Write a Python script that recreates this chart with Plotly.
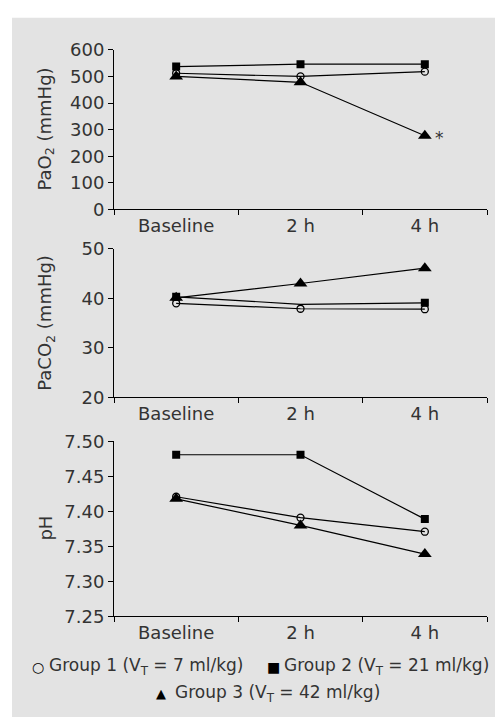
import plotly.graph_objects as go

W, H = 495, 727
categories = ["Baseline", "2 h", "4 h"]

pao2_g1 = [512, 500, 518]
pao2_g2 = [537, 546, 546]
pao2_g3 = [500, 478, 277]

paco2_g1 = [39.0, 37.9, 37.8]
paco2_g2 = [40.3, 38.8, 39.1]
paco2_g3 = [40.1, 43.0, 46.1]

ph_g1 = [7.421, 7.391, 7.371]
ph_g2 = [7.481, 7.481, 7.389]
ph_g3 = [7.418, 7.380, 7.339]

group_labels = ["Group 1 (V<sub>T</sub> = 7 ml/kg)",
                "Group 2 (V<sub>T</sub> = 21 ml/kg)",
                "Group 3 (V<sub>T</sub> = 42 ml/kg)"]

FONT = "DejaVu Sans"
TXT = "#333333"

def px_x(p):
    return p / W

def px_y(p):
    return 1 - p / H

fig = go.Figure()

styles = [
    dict(symbol="circle-open", size=7, color="black", line=dict(width=1.3, color="black")),
    dict(symbol="square", size=8, color="black"),
    dict(symbol="triangle-up", size=12, color="black"),
]

panels = [
    ("x", "y", [pao2_g1, pao2_g2, pao2_g3]),
    ("x2", "y2", [paco2_g1, paco2_g2, paco2_g3]),
    ("x3", "y3", [ph_g1, ph_g2, ph_g3]),
]

for xa, ya, series in panels:
    for i, vals in enumerate(series):
        m = dict(styles[i])
        if xa == "x2" and i == 1:
            m["opacity"] = [1, 0, 1]
        fig.add_trace(go.Scatter(
            x=categories, y=vals, xaxis=xa, yaxis=ya,
            mode="lines+markers",
            line=dict(color="black", width=1.2),
            marker=m, showlegend=False, name=group_labels[i],
        ))

xdom = [px_x(114), px_x(487)]
xcommon = dict(domain=xdom, type="category", range=[-0.5, 2.5],
               showline=True, linecolor="black", linewidth=1,
               ticks="outside", tickson="boundaries", ticklen=5,
               tickcolor="black", showgrid=False, zeroline=False,
               tickfont=dict(family=FONT, size=18, color=TXT))
ycommon = dict(showline=True, linecolor="black", linewidth=1,
               ticks="outside", ticklen=5, tickcolor="black",
               showgrid=False, zeroline=False,
               tickfont=dict(family=FONT, size=18, color=TXT))

fig.update_layout(
    width=W, height=H,
    margin=dict(l=0, r=0, t=0, b=0),
    paper_bgcolor="white",
    plot_bgcolor="rgba(0,0,0,0)",
    xaxis=dict(xcommon, anchor="y"),
    xaxis2=dict(xcommon, anchor="y2"),
    xaxis3=dict(xcommon, anchor="y3"),
    yaxis=dict(ycommon, anchor="x", domain=[px_y(204.3), px_y(40)],
               range=[0, 600], tickvals=[0, 100, 200, 300, 400, 500, 600]),
    yaxis2=dict(ycommon, anchor="x2", domain=[px_y(397.7), px_y(245)],
                range=[20, 50], tickvals=[20, 30, 40, 50]),
    yaxis3=dict(ycommon, anchor="x3", domain=[px_y(623.3), px_y(443.3)],
                range=[7.25, 7.50], tickvals=[7.25, 7.30, 7.35, 7.40, 7.45, 7.50],
                tickformat=".2f"),
)

fig.add_shape(type="rect", xref="paper", yref="paper",
              x0=px_x(12), x1=1, y0=0, y1=px_y(7),
              fillcolor="#e3e3e3", line=dict(width=0), layer="below")

ann = []
for text, ymid in [("PaO<sub>2</sub> (mmHg)", 122), ("PaCO<sub>2</sub> (mmHg)", 321), ("pH", 533)]:
    ann.append(dict(text=text, x=px_x(46), y=px_y(ymid), xref="paper", yref="paper",
                    xanchor="center", yanchor="middle", textangle=-90, showarrow=False,
                    font=dict(family=FONT, size=18, color=TXT)))

ann.append(dict(text="*", x="4 h", y=pao2_g3[2], xref="x", yref="y",
                xshift=15, yshift=-2, showarrow=False,
                font=dict(family=FONT, size=17, color=TXT)))

# legend
leg_font = dict(family=FONT, size=17, color=TXT)
ann.append(dict(text="○", x=px_x(38), y=px_y(675), xref="paper", yref="paper",
                xanchor="center", yanchor="middle", showarrow=False,
                font=dict(family=FONT, size=14, color="black")))
ann.append(dict(text=group_labels[0], x=px_x(47), y=px_y(675), xref="paper", yref="paper",
                xanchor="left", yanchor="middle", showarrow=False, font=leg_font))
ann.append(dict(text="■", x=px_x(273), y=px_y(675), xref="paper", yref="paper",
                xanchor="center", yanchor="middle", showarrow=False,
                font=dict(family=FONT, size=14, color="black")))
ann.append(dict(text=group_labels[1], x=px_x(282), y=px_y(675), xref="paper", yref="paper",
                xanchor="left", yanchor="middle", showarrow=False, font=leg_font))
ann.append(dict(text="▲", x=px_x(161), y=px_y(703), xref="paper", yref="paper",
                xanchor="center", yanchor="middle", showarrow=False,
                font=dict(family=FONT, size=13, color="black")))
ann.append(dict(text=group_labels[2], x=px_x(173), y=px_y(703), xref="paper", yref="paper",
                xanchor="left", yanchor="middle", showarrow=False, font=leg_font))

fig.update_layout(annotations=ann)

fig.write_html("out.html", config={"displayModeBar": False},
               post_script="document.body.style.margin='0';document.body.style.overflow='hidden';")
